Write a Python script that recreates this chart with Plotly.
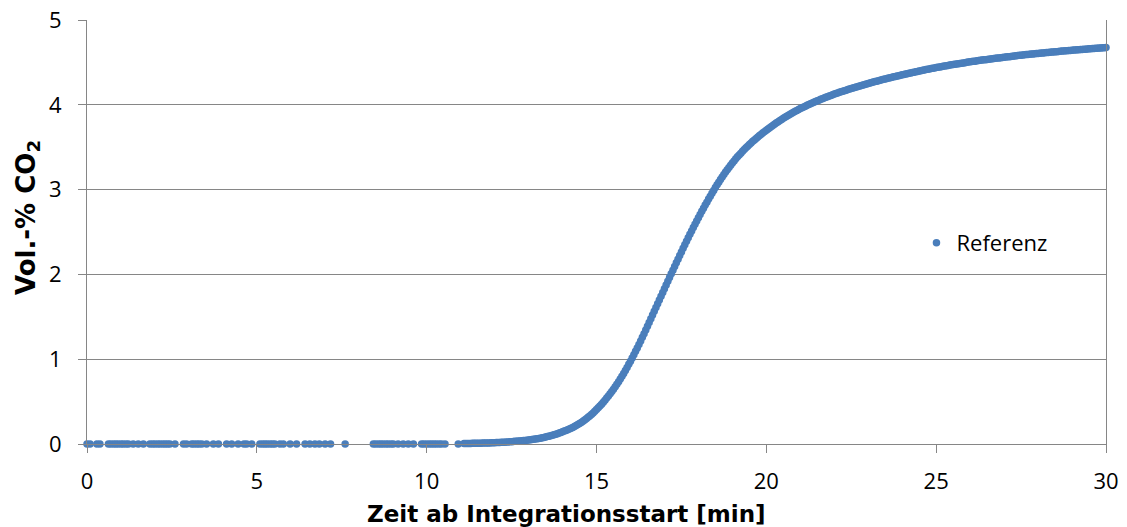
import plotly.graph_objects as go

# Baseline readings before the CO2 rise (Vol.-% = 0), times in minutes
baseline_t = [0.0, 0.09, 0.29, 0.38, 0.63, 0.70, 0.78, 0.85, 0.92, 1.00, 1.07, 1.15,
              1.22, 1.36, 1.51, 1.66, 1.85, 1.93, 2.00, 2.08, 2.15, 2.23, 2.30, 2.37,
              2.44, 2.59, 2.84, 2.93, 3.08, 3.15, 3.23, 3.30, 3.38, 3.52, 3.72, 3.87,
              4.11, 4.26, 4.45, 4.62, 4.70, 4.85, 5.09, 5.17, 5.24, 5.31, 5.39, 5.46,
              5.53, 5.68, 5.78, 5.98, 6.17, 6.42, 6.56, 6.71, 6.84, 7.01, 7.17, 7.60,
              8.43, 8.50, 8.58, 8.65, 8.72, 8.80, 8.87, 8.95, 9.02, 9.16, 9.31, 9.46,
              9.61, 9.85, 9.92, 10.00, 10.08, 10.15, 10.22, 10.29, 10.37, 10.44, 10.54,
              10.93]
baseline_vol = [0.0] * len(baseline_t)

# Continuous measurement from 11.1 min on, one sample every 0.05 min (3 s)
curve_start_min = 11.1
sample_step_min = 0.05
curve_vol = [
    # 11.10 - 11.95
    0.005, 0.0055, 0.006, 0.0065, 0.007, 0.0075, 0.008, 0.0085, 0.009, 0.0095,
    0.010, 0.0105, 0.011, 0.0115, 0.012, 0.013, 0.014, 0.015,
    # 12
    0.016, 0.017, 0.018, 0.019, 0.020, 0.021, 0.022, 0.0235, 0.025, 0.0265,
    0.028, 0.0295, 0.031, 0.0325, 0.034, 0.036, 0.038, 0.040, 0.042, 0.0445,
    # 13
    0.047, 0.0495, 0.052, 0.055, 0.058, 0.0615, 0.065, 0.069, 0.073, 0.0775,
    0.082, 0.087, 0.092, 0.0975, 0.103, 0.109, 0.115, 0.122, 0.129, 0.137,
    # 14
    0.145, 0.152, 0.160, 0.168, 0.177, 0.186, 0.196, 0.206, 0.217, 0.229,
    0.241, 0.254, 0.268, 0.283, 0.298, 0.314, 0.331, 0.349, 0.367, 0.386,
    # 15
    0.406, 0.427, 0.448, 0.470, 0.493, 0.517, 0.541, 0.566, 0.592, 0.619,
    0.646, 0.675, 0.704, 0.735, 0.766, 0.799, 0.832, 0.867, 0.902, 0.939,
    # 16
    0.976, 1.014, 1.053, 1.093, 1.133, 1.174, 1.216, 1.258, 1.301, 1.344,
    1.388, 1.432, 1.476, 1.520, 1.565, 1.609, 1.654, 1.698, 1.743, 1.787,
    # 17
    1.832, 1.876, 1.920, 1.963, 2.007, 2.050, 2.094, 2.137, 2.180, 2.222,
    2.265, 2.307, 2.349, 2.390, 2.432, 2.472, 2.513, 2.552, 2.592, 2.630,
    # 18
    2.669, 2.706, 2.744, 2.780, 2.817, 2.852, 2.888, 2.922, 2.957, 2.990,
    3.024, 3.056, 3.088, 3.118, 3.149, 3.178, 3.207, 3.234, 3.262, 3.288,
    # 19
    3.314, 3.338, 3.363, 3.386, 3.409, 3.430, 3.452, 3.472, 3.493, 3.512,
    3.532, 3.550, 3.569, 3.586, 3.604, 3.620, 3.637, 3.653, 3.669, 3.684,
    # 20
    3.700, 3.715, 3.730, 3.744, 3.759, 3.773, 3.787, 3.800, 3.814, 3.827,
    3.840, 3.852, 3.865, 3.877, 3.889, 3.900, 3.912, 3.923, 3.934, 3.944,
    # 21
    3.955, 3.965, 3.975, 3.984, 3.994, 4.003, 4.012, 4.021, 4.030, 4.038,
    4.047, 4.055, 4.064, 4.072, 4.080, 4.088, 4.096, 4.103, 4.111, 4.118,
    # 22
    4.126, 4.133, 4.140, 4.147, 4.154, 4.160, 4.167, 4.173, 4.180, 4.186,
    4.193, 4.199, 4.205, 4.211, 4.217, 4.223, 4.229, 4.234, 4.240, 4.245,
    # 23
    4.251, 4.257, 4.263, 4.268, 4.274, 4.279, 4.285, 4.290, 4.295, 4.300,
    4.305, 4.310, 4.316, 4.320, 4.325, 4.330, 4.335, 4.339, 4.344, 4.349,
    # 24
    4.354, 4.358, 4.363, 4.367, 4.372, 4.376, 4.381, 4.385, 4.390, 4.394,
    4.398, 4.402, 4.406, 4.410, 4.415, 4.419, 4.423, 4.427, 4.431, 4.435,
    # 25
    4.439, 4.442, 4.446, 4.450, 4.454, 4.457, 4.461, 4.464, 4.468, 4.471,
    4.475, 4.478, 4.482, 4.485, 4.488, 4.491, 4.494, 4.497, 4.501, 4.504,
    # 26
    4.507, 4.510, 4.513, 4.515, 4.518, 4.521, 4.524, 4.527, 4.530, 4.532,
    4.535, 4.538, 4.541, 4.543, 4.546, 4.548, 4.551, 4.553, 4.556, 4.558,
    # 27
    4.561, 4.563, 4.566, 4.568, 4.571, 4.573, 4.576, 4.578, 4.581, 4.583,
    4.585, 4.587, 4.590, 4.592, 4.594, 4.596, 4.598, 4.600, 4.602, 4.604,
    # 28
    4.606, 4.608, 4.610, 4.612, 4.614, 4.616, 4.618, 4.620, 4.622, 4.624,
    4.626, 4.627, 4.629, 4.631, 4.633, 4.634, 4.636, 4.638, 4.640, 4.641,
    # 29
    4.643, 4.645, 4.647, 4.648, 4.650, 4.651, 4.653, 4.654, 4.656, 4.658,
    4.660, 4.661, 4.663, 4.664, 4.666, 4.667, 4.669, 4.670, 4.672, 4.673,
    # 30
    4.675,
]
curve_t = [round(curve_start_min + i * sample_step_min, 2) for i in range(len(curve_vol))]

x_ticks = [0, 5, 10, 15, 20, 25, 30]
y_ticks = [0, 1, 2, 3, 4, 5]

series_name = "Referenz"
x_title = "Zeit ab Integrationsstart [min]"
y_title = "Vol.-% CO<sub>2</sub>"

BLUE = "#4a7ebb"
GRAY = "#868686"
TICK_FONT = dict(family="Open Sans, Lato, sans-serif", size=22, color="black")
X_TITLE_FONT = dict(family="DejaVu Sans, Liberation Sans, sans-serif", size=23,
                    color="black")
Y_TITLE_FONT = dict(family="DejaVu Sans, Liberation Sans, sans-serif", size=26,
                    color="black")

fig = go.Figure()
fig.add_trace(go.Scatter(
    x=baseline_t + curve_t,
    y=baseline_vol + curve_vol,
    mode="markers",
    name=series_name,
    marker=dict(color=BLUE, size=7.5, line=dict(width=0)),
    cliponaxis=False,
    showlegend=True,
))

fig.update_layout(
    width=1127,
    height=527,
    margin=dict(l=87, r=21, t=20, b=83, autoexpand=False),
    paper_bgcolor="white",
    plot_bgcolor="white",
    showlegend=True,
    legend=dict(
        x=0.814, y=0.474, xanchor="left", yanchor="middle",
        font=dict(family="Open Sans, Lato, sans-serif", size=22, color="black"),
        bgcolor="rgba(0,0,0,0)", itemsizing="trace",
    ),
    xaxis=dict(
        range=[0, 30], tickvals=x_ticks, ticktext=[str(v) for v in x_ticks],
        showgrid=False, zeroline=False, automargin=False,
        showline=True, linecolor=GRAY, linewidth=1,
        ticks="outside", ticklen=8, tickcolor=GRAY, tickwidth=1,
        ticklabelstandoff=10, tickfont=TICK_FONT,
    ),
    yaxis=dict(
        range=[0, 5], tickvals=y_ticks, ticktext=[str(v) for v in y_ticks],
        showgrid=True, gridcolor=GRAY, gridwidth=1, zeroline=False, automargin=False,
        showline=True, linecolor=GRAY, linewidth=1, mirror=True,
        ticks="outside", ticklen=8, tickcolor=GRAY, tickwidth=1,
        ticklabelstandoff=12, tickfont=TICK_FONT,
    ),
    annotations=[
        dict(text="<b>" + x_title + "</b>", xref="paper", yref="paper",
             x=0.471, y=-0.165, xanchor="center", yanchor="middle",
             showarrow=False, font=X_TITLE_FONT),
        dict(text="<b>" + y_title + "</b>", xref="paper", yref="paper",
             x=-0.059, y=0.535, xanchor="center", yanchor="middle",
             textangle=-90, showarrow=False, font=Y_TITLE_FONT),
    ],
)

fig.write_html("out.html")
